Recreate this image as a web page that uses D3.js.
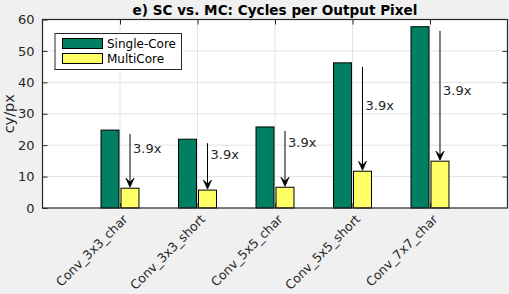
<!DOCTYPE html>
<html>
<head>
<meta charset="utf-8">
<script src="https://cdn.jsdelivr.net/npm/d3@7"></script>
<style>
  body { margin: 0; background: #f0f0f0; }
  svg { display: block; font-family: "DejaVu Sans", sans-serif; }
</style>
</head>
<body>
<script>
const categories = ['Conv_3x3_char', 'Conv_3x3_short', 'Conv_5x5_char', 'Conv_5x5_short', 'Conv_7x7_char']
const singleCore = [24.8, 21.9, 25.8, 46.2, 57.7]
const multiCore = [6.3, 5.7, 6.6, 11.7, 14.9]
const speedups = ['3.9x', '3.9x', '3.9x', '3.9x', '3.9x']
const labelY = [19.1, 16.9, 20.8, 32.7, 37.4]
const yTicks = [0, 10, 20, 30, 40, 50, 60]
const seriesNames = ['Single-Core', 'MultiCore']
const colors = ['#007f62', '#ffff66']

const W = 509, H = 294
const margin = { top: 19.5, right: 1.5, bottom: 86, left: 42.5 }
const width = W - margin.left - margin.right
const height = H - margin.top - margin.bottom

const x = d3.scaleLinear().domain([0, categories.length + 1]).range([0, width])
const y = d3.scaleLinear().domain([0, 60]).range([height, 0])
const step = x(1) - x(0)
const barW = step * 0.232
const off = step * 0.129

const svg = d3.select('body').append('svg')
    .attr('width', W)
    .attr('height', H)

svg.append('rect').attr('width', W).attr('height', H).attr('fill', '#f0f0f0')

svg.append('text')
    .attr('x', margin.left + width / 2)
    .attr('y', 15)
    .attr('text-anchor', 'middle')
    .attr('font-size', 13.6)
    .attr('font-weight', 'bold')
    .attr('fill', '#000')
    .text('e) SC vs. MC: Cycles per Output Pixel')

const g = svg.append('g').attr('transform', `translate(${margin.left},${margin.top})`)

g.append('rect').attr('width', width).attr('height', height).attr('fill', '#fff')

// grid
g.append('g').selectAll('line.gy').data(yTicks.slice(1, -1)).enter().append('line')
    .attr('x1', 0).attr('x2', width)
    .attr('y1', d => y(d)).attr('y2', d => y(d))
    .attr('stroke', '#e3e3e3')
g.append('g').selectAll('line.gx').data(categories).enter().append('line')
    .attr('x1', (d, i) => x(i + 1)).attr('x2', (d, i) => x(i + 1))
    .attr('y1', 0).attr('y2', height)
    .attr('stroke', '#e3e3e3')

// bars
const grp = g.selectAll('.grp').data(categories).enter().append('g')
    .attr('transform', (d, i) => `translate(${x(i + 1)},0)`)

grp.append('rect')
    .attr('x', -off - barW / 2)
    .attr('width', barW)
    .attr('y', (d, i) => y(singleCore[i]))
    .attr('height', (d, i) => height - y(singleCore[i]))
    .attr('fill', colors[0]).attr('stroke', '#000').attr('stroke-width', 1)

grp.append('rect')
    .attr('x', off - barW / 2)
    .attr('width', barW)
    .attr('y', (d, i) => y(multiCore[i]))
    .attr('height', (d, i) => height - y(multiCore[i]))
    .attr('fill', colors[1]).attr('stroke', '#000').attr('stroke-width', 1)

// arrows
grp.append('line')
    .attr('x1', off).attr('x2', off)
    .attr('y1', (d, i) => y(singleCore[i]) + 4)
    .attr('y2', (d, i) => y(multiCore[i]) - 4)
    .attr('stroke', '#000').attr('stroke-width', 1)

grp.append('path')
    .attr('d', (d, i) => {
      const t = y(multiCore[i]) - 1
      return `M${off},${t} L${off - 4},${t - 9} L${off},${t - 5} L${off + 4},${t - 9} Z`
    })
    .attr('fill', '#000').attr('stroke', '#000').attr('stroke-width', 0.8)

grp.append('text')
    .attr('x', off + 3)
    .attr('y', (d, i) => y(labelY[i]))
    .attr('dy', '0.35em')
    .attr('font-size', 13)
    .attr('fill', '#262626')
    .text((d, i) => speedups[i])

// axes frame
const axisColor = '#262626'
g.append('rect').attr('width', width).attr('height', height)
    .attr('fill', 'none').attr('stroke', axisColor).attr('stroke-width', 1.2)

const yAxis = g.append('g')
    .call(d3.axisLeft(y).tickValues(yTicks).tickSize(-5).tickPadding(8))
yAxis.select('.domain').remove()
yAxis.selectAll('line').attr('stroke', axisColor)
yAxis.selectAll('text').attr('font-size', 13).attr('fill', axisColor).attr('font-family', 'DejaVu Sans')

const yAxisR = g.append('g').attr('transform', `translate(${width},0)`)
    .call(d3.axisRight(y).tickValues(yTicks.slice(1, -1)).tickSize(-5).tickFormat(''))
yAxisR.select('.domain').remove()
yAxisR.selectAll('line').attr('stroke', axisColor)

const xAxis = g.append('g').attr('transform', `translate(0,${height})`)
    .call(d3.axisBottom(x).tickValues(d3.range(1, categories.length + 1)).tickSize(-5)
      .tickFormat(d => categories[d - 1]).tickPadding(0))
xAxis.select('.domain').remove()
xAxis.selectAll('line').attr('stroke', axisColor)
xAxis.selectAll('text')
    .attr('font-size', 12.5).attr('fill', axisColor).attr('font-family', 'DejaVu Sans')
    .attr('text-anchor', 'end')
    .attr('dy', null).attr('y', 0)
    .attr('transform', 'translate(8,12) rotate(-45)')

const xAxisT = g.append('g')
    .call(d3.axisTop(x).tickValues(d3.range(1, categories.length + 1)).tickSize(-5).tickFormat(''))
xAxisT.select('.domain').remove()
xAxisT.selectAll('line').attr('stroke', axisColor)

// y label
svg.append('text')
    .attr('transform', `translate(14,${margin.top + height / 2}) rotate(-90)`)
    .attr('text-anchor', 'middle')
    .attr('font-size', 14.5)
    .attr('fill', axisColor)
    .text('cy/px')

// legend
const lg = svg.append('g').attr('transform', 'translate(55,33.5)')
lg.append('rect').attr('width', 126.5).attr('height', 36)
    .attr('fill', '#fff').attr('stroke', axisColor).attr('stroke-width', 1)
seriesNames.forEach((name, i) => {
  lg.append('rect').attr('x', 7.5).attr('y', 5 + i * 15).attr('width', 40).attr('height', 10)
      .attr('fill', colors[i]).attr('stroke', '#000')
  lg.append('text').attr('x', 52).attr('y', 10 + i * 15).attr('dy', '0.35em')
      .attr('font-size', 12).attr('fill', '#000').text(name)
})
</script>
</body>
</html>
